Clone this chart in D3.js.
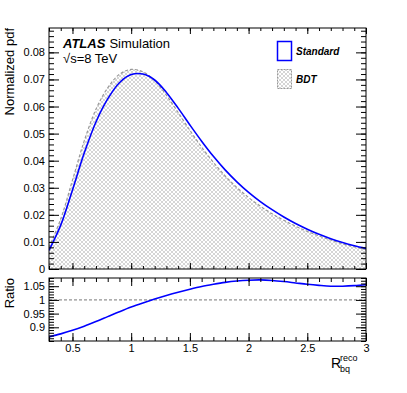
<!DOCTYPE html>
<html>
<head>
<meta charset="utf-8">
<script src="https://d3js.org/d3.v7.min.js"></script>
<style>
  body { margin: 0; background: #fff; }
  svg { display: block; font-family: "Liberation Sans", Arial, sans-serif; }
  .axis path { display: none; }
  .axis line { stroke: #000; }
  .axis text { font-size: 11px; fill: #000; font-family: "Liberation Sans", Arial, sans-serif; }
</style>
</head>
<body>
<svg width="407" height="393"></svg>
<script>
// values
const xs = [0.3, 0.4, 0.5, 0.6, 0.7, 0.8, 0.9, 1.0, 1.1, 1.2, 1.3, 1.4, 1.5, 1.6, 1.7,
            1.8, 1.9, 2.0, 2.1, 2.2, 2.3, 2.4, 2.5, 2.6, 2.7, 2.8, 2.9, 3.0]
const standard = [0.0069, 0.0162, 0.0292, 0.0428, 0.0543, 0.0628, 0.0688, 0.0718, 0.0720, 0.0698,
                  0.0652, 0.0594, 0.0532, 0.0472, 0.0416, 0.0366, 0.0322, 0.0283, 0.0249, 0.0219,
                  0.0192, 0.0168, 0.0147, 0.0128, 0.0112, 0.0098, 0.0086, 0.0076]
const bdt = [0.0080, 0.0185, 0.0328, 0.0473, 0.0590, 0.0669, 0.0719, 0.0737, 0.0728, 0.0696,
             0.0642, 0.0578, 0.0512, 0.0450, 0.0394, 0.0344, 0.0301, 0.0264, 0.0232, 0.0204,
             0.0180, 0.0158, 0.0139, 0.0122, 0.0107, 0.0093, 0.0082, 0.0072]
const ratio = [0.865, 0.876, 0.889, 0.904, 0.921, 0.939, 0.957, 0.974, 0.989, 1.003,
               1.016, 1.028, 1.039, 1.049, 1.057, 1.064, 1.069, 1.072, 1.073, 1.071,
               1.067, 1.062, 1.057, 1.053, 1.050, 1.050, 1.052, 1.056]

const yMajor = [0, 0.01, 0.02, 0.03, 0.04, 0.05, 0.06, 0.07, 0.08]
const rMajor = [0.9, 0.95, 1, 1.05]
const xMajor = [0.5, 1, 1.5, 2, 2.5, 3]

let svg = d3.select("svg")

let L = 49, R = 366
let top1 = 28, bot1 = 269, top2 = 278, bot2 = 341

let x = d3.scaleLinear().domain([0.3, 3]).range([L, R])
let y = d3.scaleLinear().domain([0, 0.089]).range([bot1, top1])
let yr = d3.scaleLinear().domain([0.85, 1.08]).range([bot2, top2])

let fmt = d => String(+d.toFixed(2))
let xMinor = d3.range(3, 31).map(d => d / 10)
let yMinor = d3.range(0, 45).map(d => d * 0.002)
let rMinor = d3.range(85, 109).map(d => d / 100)

let curve = d3.curveCatmullRom.alpha(0.5)

// hatch pattern for BDT
let defs = svg.append("defs")
let pat = defs.append("pattern")
    .attr("id", "hatch")
    .attr("patternUnits", "userSpaceOnUse")
    .attr("width", 4).attr("height", 4)
pat.append("path")
    .attr("d", "M0,0L4,4M4,0L0,4")
    .attr("stroke", "#aaa")
    .attr("stroke-width", 0.5)
defs.append("clipPath").attr("id", "clip1")
    .append("rect").attr("x", L).attr("y", top1).attr("width", R - L).attr("height", bot1 - top1)
defs.append("clipPath").attr("id", "clip2")
    .append("rect").attr("x", L).attr("y", top2).attr("width", R - L).attr("height", bot2 - top2)

let pts = (arr) => xs.map((v, i) => [v, arr[i]])

// upper panel
let g1 = svg.append("g").attr("clip-path", "url(#clip1)")
g1.append("path")
    .datum(pts(bdt))
    .attr("fill", "url(#hatch)")
    .attr("d", d3.area().x(d => x(d[0])).y0(y(0)).y1(d => y(d[1])).curve(curve))
g1.append("path")
    .datum(pts(bdt))
    .attr("fill", "none")
    .attr("stroke", "#999")
    .attr("stroke-width", 1.2)
    .attr("stroke-dasharray", "3,2")
    .attr("d", d3.line().x(d => x(d[0])).y(d => y(d[1])).curve(curve))
g1.append("path")
    .datum(pts(standard))
    .attr("fill", "none")
    .attr("stroke", "#0000ff")
    .attr("stroke-width", 1.6)
    .attr("d", d3.line().x(d => x(d[0])).y(d => y(d[1])).curve(curve))

// lower panel
let g2 = svg.append("g").attr("clip-path", "url(#clip2)")
g2.append("line")
    .attr("x1", L).attr("x2", R).attr("y1", yr(1)).attr("y2", yr(1))
    .attr("stroke", "#777").attr("stroke-dasharray", "3,2")
g2.append("path")
    .datum(pts(ratio))
    .attr("fill", "none")
    .attr("stroke", "#0000ff")
    .attr("stroke-width", 1.6)
    .attr("d", d3.line().x(d => x(d[0])).y(d => yr(d[1])).curve(curve))

// axes, ROOT style ticks pointing inwards
function ticks(axisFn, scale, values, size, pos, labels, pad) {
    let a = axisFn(scale).tickValues(values).tickSizeInner(-size).tickSizeOuter(0)
    if (labels) a.tickFormat(fmt).tickPadding(pad)
    else a.tickFormat("")
    return svg.append("g").attr("class", "axis").attr("transform", pos).call(a)
}

// upper panel
ticks(d3.axisLeft, y, yMajor, 10, `translate(${L},0)`, true, 4)
ticks(d3.axisLeft, y, yMinor, 5, `translate(${L},0)`, false)
ticks(d3.axisRight, y, yMajor, 10, `translate(${R},0)`, false)
ticks(d3.axisRight, y, yMinor, 5, `translate(${R},0)`, false)
ticks(d3.axisBottom, x, xMajor, 6, `translate(0,${bot1})`, false)
ticks(d3.axisBottom, x, xMinor, 3, `translate(0,${bot1})`, false)
ticks(d3.axisTop, x, xMajor, 6, `translate(0,${top1})`, false)
ticks(d3.axisTop, x, xMinor, 3, `translate(0,${top1})`, false)

// lower panel
ticks(d3.axisLeft, yr, rMajor, 10, `translate(${L},0)`, true, 4)
ticks(d3.axisLeft, yr, rMinor, 5, `translate(${L},0)`, false)
ticks(d3.axisRight, yr, rMajor, 10, `translate(${R},0)`, false)
ticks(d3.axisRight, yr, rMinor, 5, `translate(${R},0)`, false)
ticks(d3.axisBottom, x, xMajor, 8, `translate(0,${bot2})`, true, 3)
ticks(d3.axisBottom, x, xMinor, 4, `translate(0,${bot2})`, false)
ticks(d3.axisTop, x, xMajor, 8, `translate(0,${top2})`, false)
ticks(d3.axisTop, x, xMinor, 4, `translate(0,${top2})`, false)

// frames
svg.append("rect").attr("x", L).attr("y", top1).attr("width", R - L).attr("height", bot1 - top1)
    .attr("fill", "none").attr("stroke", "#000")
svg.append("rect").attr("x", L).attr("y", top2).attr("width", R - L).attr("height", bot2 - top2)
    .attr("fill", "none").attr("stroke", "#000")

// axis titles
svg.append("text")
    .attr("transform", `translate(14,${top1}) rotate(-90)`)
    .attr("text-anchor", "end")
    .style("font-size", "13px")
    .text("Normalized pdf")
svg.append("text")
    .attr("transform", `translate(14,${top2}) rotate(-90)`)
    .attr("text-anchor", "end")
    .style("font-size", "13px")
    .text("Ratio")
svg.append("text").attr("x", 331).attr("y", 368).style("font-size", "14px").text("R")
svg.append("text").attr("x", 340).attr("y", 361).style("font-size", "9px").text("reco")
svg.append("text").attr("x", 340).attr("y", 372).style("font-size", "9px").text("bq")

// ATLAS label
let at = svg.append("text").attr("x", 63).attr("y", 48).style("font-size", "13px")
at.append("tspan").style("font-weight", "bold").style("font-style", "italic").text("ATLAS")
at.append("tspan").attr("dx", 4).text("Simulation")
svg.append("text").attr("x", 63).attr("y", 63).style("font-size", "13px").text("\u221As=8 TeV")

// legend
svg.append("rect").attr("x", 277.5).attr("y", 41.5).attr("width", 14).attr("height", 19)
    .attr("fill", "#fff").attr("stroke", "#0000ff").attr("stroke-width", 1.5)
svg.append("text").attr("x", 296).attr("y", 55).style("font-size", "10px")
    .style("font-weight", "bold").style("font-style", "italic").text("Standard")
svg.append("rect").attr("x", 277.5).attr("y", 69.5).attr("width", 14).attr("height", 19)
    .attr("fill", "url(#hatch)").attr("stroke", "#999").attr("stroke-dasharray", "2,1")
svg.append("text").attr("x", 296).attr("y", 83).style("font-size", "10px")
    .style("font-weight", "bold").style("font-style", "italic").text("BDT")
</script>
</body>
</html>
